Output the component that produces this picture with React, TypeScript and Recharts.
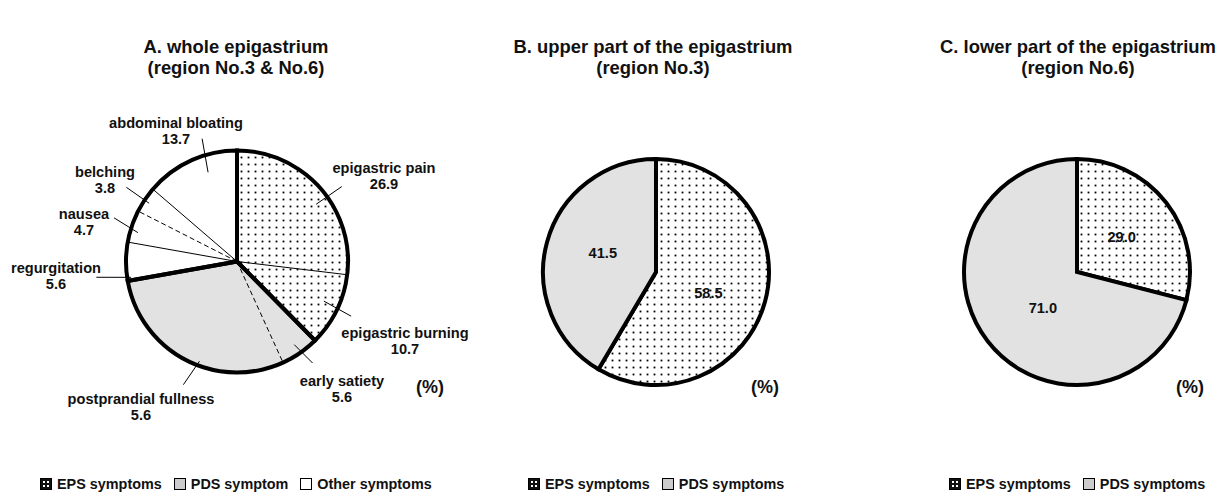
import { Cell, Pie, PieChart } from "recharts";

// A. whole epigastrium, clockwise from 12 o'clock
const wholeNames = [
  "epigastric pain",
  "epigastric burning",
  "early satiety",
  "postprandial fullness",
  "regurgitation",
  "nausea",
  "belching",
  "abdominal bloating",
];
// wedge sizes as drawn (the fullness wedge is drawn at ~29% although it is printed 5.6)
const wholeValues = [26.9, 10.7, 5.6, 29.0, 5.6, 4.7, 3.8, 13.7];
const wholePrinted = ["26.9", "10.7", "5.6", "5.6", "5.6", "4.7", "3.8", "13.7"];
const wholeGroups = ["EPS", "EPS", "PDS", "PDS", "Other", "Other", "Other", "Other"];

// B. upper part, C. lower part
const partNames = ["EPS", "PDS"];
const upperValues = [58.5, 41.5];
const lowerValues = [29.0, 71.0];

const titles = [
  ["A. whole epigastrium", "(region No.3 & No.6)"],
  ["B. upper part of the epigastrium", "(region No.3)"],
  ["C. lower part of the epigastrium", "(region No.6)"],
];
const legendA = ["EPS symptoms", "PDS symptom", "Other symptoms"];
const legendBC = ["EPS symptoms", "PDS symptoms"];

const FONT = '"Liberation Sans", Arial, sans-serif';
const INK = "#111";
const FILLS: Record<string, string> = { EPS: "url(#dots)", PDS: "#e2e2e2", Other: "#ffffff" };
const RAD = Math.PI / 180;

// divider drawn at the start of each wedge of pie A
const dividerStyle = ["thick", "thin", "thick", "dash", "thick", "thin", "dash", "thin"];
// leader: [angle shift 0, radius 0, angle shift 1, radius 1, text dx, text dy]
const leaderLayout = [
  [5.7, 0.88, 6.0, 1.16, 147, -94],
  [-1.6, 0.86, -0.5, 1.14, 168, 71],
  [0, 0.91, -2.1, 1.14, 105, 119],
  [-7.1, 0.96, -4.2, 1.21, -96, 137],
  [-8.5, 0.965, -6.4, 1.275, -181, 6],
  [-2.3, 0.93, 1.0, 1.175, -153, -48],
  [-0.3, 0.95, 0, 1.2, -132, -90],
  [6.7, 0.845, 8.8, 1.15, -61, -139],
];
// inner labels for B and C: [angle shift, radius factor]
const upperLabelPos = [[6.7, 0.5], [4.4, 0.5]];
const lowerLabelPos = [[0, 0.5], [-8.8, 0.44]];

const polar = (cx: number, cy: number, r: number, a: number) => ({
  x: cx + r * Math.cos(-a * RAD),
  y: cy + r * Math.sin(-a * RAD),
});

const wholeData = wholeNames.map((name, i) => ({
  name,
  value: wholeValues[i],
  printed: wholePrinted[i],
  group: wholeGroups[i],
}));
const groupData = ["EPS", "PDS", "Other"].map((g) => ({
  name: g,
  value: wholeData.filter((d) => d.group === g).reduce((s, d) => s + d.value, 0),
}));
const upperData = partNames.map((name, i) => ({ name, value: upperValues[i] }));
const lowerData = partNames.map((name, i) => ({ name, value: lowerValues[i] }));

const renderWholeLabel = (props: any) => {
  const { cx, cy, outerRadius, startAngle, midAngle, index } = props;
  const [d0, r0, d1, r1, tx, ty] = leaderLayout[index];
  const edge = polar(cx, cy, outerRadius, startAngle);
  const p0 = polar(cx, cy, outerRadius * r0, midAngle - d0);
  const p1 = polar(cx, cy, outerRadius * r1, midAngle - d1);
  const style = dividerStyle[index];
  return (
    <g key={`lbl-${index}`}>
      {style !== "thick" && (
        <line
          x1={cx}
          y1={cy}
          x2={edge.x}
          y2={edge.y}
          stroke="#000"
          strokeWidth={1}
          strokeDasharray={style === "dash" ? "5 3" : undefined}
        />
      )}
      <line x1={p0.x} y1={p0.y} x2={p1.x} y2={p1.y} stroke="#000" strokeWidth={1} />
      <text
        x={cx + tx}
        y={cy + ty}
        textAnchor="middle"
        dominantBaseline="central"
        fontFamily={FONT}
        fontWeight="bold"
        fontSize={14.6}
        fill={INK}
      >
        {wholeData[index].name}
      </text>
      <text
        x={cx + tx}
        y={cy + ty + 16.5}
        textAnchor="middle"
        dominantBaseline="central"
        fontFamily={FONT}
        fontWeight="bold"
        fontSize={14.6}
        fill={INK}
      >
        {wholeData[index].printed}
      </text>
    </g>
  );
};

const innerLabel = (pos: number[][]) => (props: any) => {
  const { cx, cy, outerRadius, midAngle, index, value } = props;
  const [d, f] = pos[index];
  const p = polar(cx, cy, outerRadius * f, midAngle - d);
  return (
    <text
      key={`in-${index}`}
      x={p.x}
      y={p.y}
      textAnchor="middle"
      dominantBaseline="central"
      fontFamily={FONT}
      fontWeight="bold"
      fontSize={14.6}
      fill={INK}
    >
      {Number(value).toFixed(1)}
    </text>
  );
};

function LegendIcon({ kind }: { kind: string }) {
  return (
    <svg width={12} height={12} style={{ display: "block" }}>
      {kind === "EPS" ? (
        <>
          <rect x={0.5} y={0.5} width={11} height={11} fill="#111" stroke="#000" />
          <rect x={3} y={3} width={2} height={2} fill="#fff" />
          <rect x={7} y={3} width={2} height={2} fill="#fff" />
          <rect x={3} y={7} width={2} height={2} fill="#fff" />
          <rect x={7} y={7} width={2} height={2} fill="#fff" />
        </>
      ) : (
        <rect
          x={0.5}
          y={0.5}
          width={11}
          height={11}
          fill={kind === "PDS" ? "#cccccc" : "#fff"}
          stroke="#000"
        />
      )}
    </svg>
  );
}

function LegendRow({ left, labels }: { left: number; labels: string[] }) {
  const kinds = ["EPS", "PDS", "Other"];
  return (
    <div
      style={{
        position: "absolute",
        left,
        top: 475,
        height: 17,
        display: "flex",
        alignItems: "center",
        fontFamily: FONT,
        fontWeight: "bold",
        fontSize: 14.4,
        color: INK,
        whiteSpace: "nowrap",
      }}
    >
      {labels.map((l, i) => (
        <div key={l} style={{ display: "flex", alignItems: "center", marginRight: 12 }}>
          <LegendIcon kind={kinds[i]} />
          <span style={{ marginLeft: 5 }}>{l}</span>
        </div>
      ))}
    </div>
  );
}

const titleCenters = [236, 653, 1078];
const percentPos = [
  [430, 387],
  [765, 387],
  [1190, 387],
];

export default function App() {
  return (
    <div
      style={{
        position: "absolute",
        left: 0,
        top: 0,
        width: 1229,
        height: 493,
        overflow: "hidden",
        background: "#fff",
      }}
    >
      {titles.map((t, i) => (
        <div
          key={t[0]}
          style={{
            position: "absolute",
            left: titleCenters[i] - 200,
            width: 400,
            top: 36,
            textAlign: "center",
            fontFamily: FONT,
            fontWeight: "bold",
            fontSize: 18.4,
            lineHeight: "21px",
            color: INK,
          }}
        >
          {t[0]}
          <br />
          {t[1]}
        </div>
      ))}

      <div style={{ position: "absolute", left: 0, top: 0 }}>
        <PieChart width={1229} height={493} margin={{ top: 0, right: 0, bottom: 0, left: 0 }}>
          <defs>
            <pattern id="dots" width={7} height={7} patternUnits="userSpaceOnUse">
              <rect width={7} height={7} fill="#fff" />
              <rect x={2.6} y={2.6} width={1.8} height={1.8} fill="#000" />
            </pattern>
          </defs>

          <Pie
            data={wholeData}
            dataKey="value"
            cx={237}
            cy={261.5}
            outerRadius={111}
            startAngle={90}
            endAngle={-270}
            stroke="none"
            label={renderWholeLabel}
            labelLine={false}
            isAnimationActive={false}
          >
            {wholeData.map((d) => (
              <Cell key={d.name} fill={FILLS[d.group]} />
            ))}
          </Pie>
          <Pie
            data={groupData}
            dataKey="value"
            cx={237}
            cy={261.5}
            outerRadius={111}
            startAngle={90}
            endAngle={-270}
            fill="none"
            stroke="#000"
            strokeWidth={4}
            label={false}
            labelLine={false}
            isAnimationActive={false}
          />

          <Pie
            data={upperData}
            dataKey="value"
            cx={656}
            cy={272}
            outerRadius={113}
            startAngle={90}
            endAngle={-270}
            stroke="#000"
            strokeWidth={4}
            label={innerLabel(upperLabelPos)}
            labelLine={false}
            isAnimationActive={false}
          >
            {upperData.map((d) => (
              <Cell key={d.name} fill={FILLS[d.name]} />
            ))}
          </Pie>

          <Pie
            data={lowerData}
            dataKey="value"
            cx={1077}
            cy={272}
            outerRadius={113}
            startAngle={90}
            endAngle={-270}
            stroke="#000"
            strokeWidth={4}
            label={innerLabel(lowerLabelPos)}
            labelLine={false}
            isAnimationActive={false}
          >
            {lowerData.map((d) => (
              <Cell key={d.name} fill={FILLS[d.name]} />
            ))}
          </Pie>
        </PieChart>
      </div>

      {percentPos.map(([x, y], i) => (
        <div
          key={i}
          style={{
            position: "absolute",
            left: x - 30,
            width: 60,
            top: y - 11,
            height: 22,
            lineHeight: "22px",
            textAlign: "center",
            fontFamily: FONT,
            fontWeight: "bold",
            fontSize: 18,
            color: INK,
          }}
        >
          (%)
        </div>
      ))}

      <LegendRow left={40} labels={legendA} />
      <LegendRow left={528} labels={legendBC} />
      <LegendRow left={949} labels={legendBC} />
    </div>
  );
}
